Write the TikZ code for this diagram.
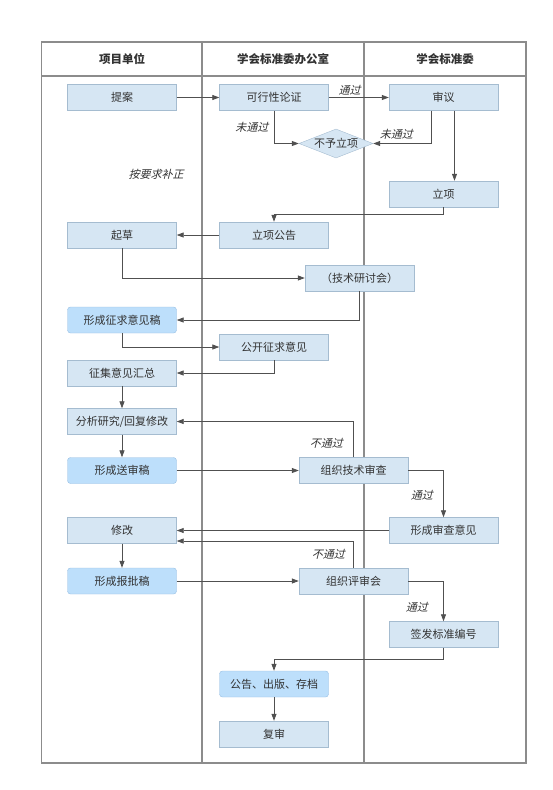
\documentclass[tikz,border=0pt]{standalone}
\usepackage{fontspec}
\usepackage{tikz}
\usepackage{xcolor}
\usetikzlibrary{arrows.meta, positioning, shapes.geometric, calc}
\setmainfont{Noto Sans CJK SC}
\newfontfamily\cjkslant{Noto Sans CJK SC}[FakeSlant=0.25]
\definecolor{boxfill}{RGB}{214, 230, 243}
\definecolor{boxedge}{RGB}{165, 188, 208}
\definecolor{keyfill}{RGB}{189, 223, 251}
\definecolor{keyedge}{RGB}{150, 190, 226}
\definecolor{linegray}{RGB}{80, 80, 80}
\definecolor{framegray}{RGB}{140, 140, 140}
\definecolor{textgray}{RGB}{50, 50, 50}

\begin{document}
\begin{tikzpicture}[x=1pt, y=-1pt,
    box/.style={rectangle, draw=boxedge, fill=boxfill, minimum width=109pt, minimum height=26pt, inner sep=0pt, text=textgray, font=\fontsize{11}{13}\selectfont},
    keybox/.style={box, draw=keyedge, fill=keyfill, rounded corners=3pt},
    decide/.style={diamond, aspect=2.55, draw=boxedge, fill=boxfill, minimum width=74pt, minimum height=29pt, inner sep=0pt, text=textgray, font=\fontsize{11}{13}\selectfont},
    flow/.style={-{Triangle[length=7pt, width=5pt]}, linegray, line width=0.8pt},
    tag/.style={text=textgray, font=\cjkslant\fontsize{11}{13}\selectfont},
    head/.style={text=textgray, font=\bfseries\fontsize{11.5}{13}\selectfont}
]
\useasboundingbox (0,0) rectangle (553,790);

% Lanes
\draw[framegray, line width=1.4pt] (41.5,42) rectangle (526,763);
\draw[framegray, line width=1.4pt] (202,42) -- (202,763);
\draw[framegray, line width=1.4pt] (364,42) -- (364,763);
\draw[framegray, line width=1.4pt] (41.5,76) -- (526,76);
\node[head] (laneA) at (122,59) {项目单位};
\node[head] (laneB) at (283,59) {学会标准委办公室};
\node[head] (laneC) at (445,59) {学会标准委};

% Proposal stage
\node[box] (tian) at (122,97.5) {提案};
\node[box] (kxx) at (274,97.5) {可行性论证};
\node[box] (shenyi) at (443.5,97.5) {审议};
\node[decide] (buyu) at (336,143.5) {不予立项};
\node[box] (lixiang) at (443.5,194) {立项};
\node[tag] (buzheng) at (156,174) {按要求补正};

\draw[flow] (tian) -- (kxx);
\draw[flow] (kxx) -- node[tag, above=-2pt, pos=0.35] (pass1) {通过} (shenyi);
\draw[flow] (kxx.south) |- node[tag, pos=0.25, left=2pt] (fail1) {未通过} (buyu.west);
\draw[flow] ([xshift=-12.5pt]shenyi.south) |- node[tag, pos=0.8, above=0pt] (fail2) {未通过} (buyu.east);
\draw[flow] ([xshift=11pt]shenyi.south) -- ([xshift=11pt]lixiang.north);

% Drafting stage
\node[box] (gonggao) at (274,235) {立项公告};
\node[box] (qicao) at (122,235) {起草};
\node[box] (yantao) at (359.5,278) {（技术研讨会）};
\node[keybox] (zhengqiu) at (122,320) {形成征求意见稿};
\node[box] (gongkai) at (274,347) {公开征求意见};
\node[box] (huizong) at (122,373) {征集意见汇总};
\node[box] (fenxi) at (122,421.5) {分析研究/回复修改};

\draw[flow] (lixiang.south) -- ++(0,7) -| (gonggao.north);
\draw[flow] (gonggao) -- (qicao);
\draw[flow] (qicao.south) |- (yantao.west);
\draw[flow] (yantao.south) |- (zhengqiu.east);
\draw[flow] (zhengqiu.south) |- (gongkai.west);
\draw[flow] (gongkai.south) |- (huizong.east);
\draw[flow] (huizong) -- (fenxi);

% Review stage
\node[keybox] (songshen) at (122,470.5) {形成送审稿};
\node[box] (jishu) at (353.5,470.5) {组织技术审查};
\node[box] (yijian) at (443.5,530.5) {形成审查意见};
\node[box] (xiugai) at (122,530.5) {修改};

\draw[flow] (fenxi) -- (songshen);
\draw[flow] (songshen) -- (jishu);
\draw[flow] (jishu.north) |- node[tag, pos=0.2, left=7pt] (fail3) {不通过} (fenxi.east);
\draw[flow] (jishu.east) -| node[tag, pos=0.77, left=7pt] (pass2) {通过} (yijian.north);
\draw[flow] (yijian) -- (xiugai);

% Approval stage
\node[keybox] (baopi) at (122,581) {形成报批稿};
\node[box] (pingshen) at (353.5,581) {组织评审会};
\node[box] (bianhao) at (443.5,634.5) {签发标准编号};
\node[keybox] (chuban) at (274,684) {公告、出版、存档};
\node[box] (fushen) at (274,734) {复审};

\draw[flow] (xiugai) -- (baopi);
\draw[flow] (baopi) -- (pingshen);
\draw[flow] (pingshen.north) |- node[tag, pos=0.26, left=5pt] (fail4) {不通过} ([yshift=-10.5pt]xiugai.east);
\draw[flow] (pingshen.east) -| node[tag, pos=0.83, left=12pt] (pass3) {通过} (bianhao.north);
\draw[flow] (bianhao.south) -- ++(0,12) -| (chuban.north);
\draw[flow] (chuban) -- (fushen);

\end{tikzpicture}
\end{document}
